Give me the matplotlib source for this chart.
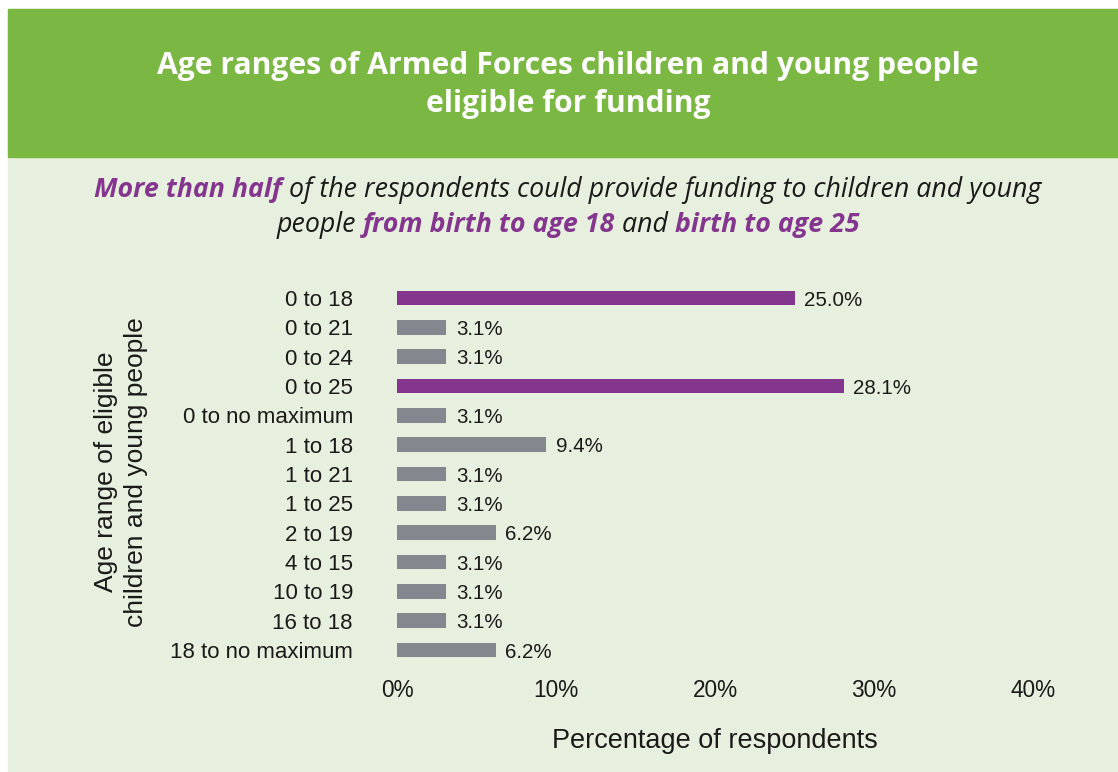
import matplotlib
matplotlib.use("Agg")
import matplotlib.pyplot as plt
from matplotlib.patches import Rectangle

# Data
age_ranges = ["0 to 18", "0 to 21", "0 to 24", "0 to 25", "0 to no maximum",
              "1 to 18", "1 to 21", "1 to 25", "2 to 19", "4 to 15",
              "10 to 19", "16 to 18", "18 to no maximum"]
percentages = [25.0, 3.1, 3.1, 28.1, 3.1, 9.4, 3.1, 3.1, 6.2, 3.1, 3.1, 3.1, 6.2]
highlighted = ["0 to 18", "0 to 25"]
x_ticks = [0, 10, 20, 30, 40]
x_ticklabels = ["0%", "10%", "20%", "30%", "40%"]

GREEN = "#7ab843"
PANEL = "#e7f0de"
PURPLE = "#84368e"
GREY = "#83878e"
TEXT = "#1a1a1a"

W, H = 1118, 772
fig = plt.figure(figsize=(W / 100, H / 100), dpi=100)
fig.patch.set_facecolor("white")


def fx(px):
    return px / W


def fy(py):
    return 1 - py / H


# Background panel and header band
fig.patches.append(Rectangle((fx(8), 0), fx(W - 8), (H - 9) / H,
                             transform=fig.transFigure, color=PANEL, zorder=-10))
fig.patches.append(Rectangle((fx(8), fy(157)), fx(W - 8), (157 - 9) / H,
                             transform=fig.transFigure, color=GREEN, zorder=-10))

renderer = fig.canvas.get_renderer()
HEAD_FONT = "Open Sans"
BODY_FONT = "Liberation Sans"

# Title
title_kw = dict(ha="center", va="center", color="white", fontsize=21.7,
                fontweight="bold", family=HEAD_FONT)
fig.text(fx(568), fy(66), "Age ranges of Armed Forces children and young people", **title_kw)
fig.text(fx(568), fy(104), "eligible for funding", **title_kw)


# Subtitle with mixed emphasis
def rich_line(pieces, cx, cy, size=19.3):
    texts = []
    for s, bold in pieces:
        t = fig.text(0, fy(cy), s, ha="left", va="center", fontsize=size,
                     family=HEAD_FONT, style="italic",
                     fontweight="bold" if bold else "normal",
                     color=PURPLE if bold else TEXT)
        texts.append(t)
    widths = [t.get_window_extent(renderer).width for t in texts]
    total = sum(widths)
    x = cx - total / 2
    for t, w in zip(texts, widths):
        t.set_x(fx(x))
        x += w


rich_line([("More than half", True),
           (" of the respondents could provide funding to children and young", False)],
          568, 190)
rich_line([("people ", False), ("from birth to age 18", True), (" and ", False),
           ("birth to age 25", True)], 568, 225)

# Bar chart
row_gap = (650 - 298) / 12
top = 298 - row_gap / 2
bottom = 650 + row_gap / 2
ax = fig.add_axes([fx(397), fy(bottom), fx(1033 - 397), (bottom - top) / H])
ax.set_facecolor("none")
ypos = list(range(len(age_ranges)))
colors = [PURPLE if a in highlighted else GREY for a in age_ranges]
bars = ax.barh(ypos, percentages, height=0.5, color=colors)
ax.set_ylim(len(age_ranges) - 0.5, -0.5)
ax.set_xlim(0, 40)
for b, v in zip(bars, percentages):
    ax.text(v + 0.6, b.get_y() + b.get_height() / 2, f"{v:.1f}%",
            va="center_baseline", ha="left", fontsize=14.8, color=TEXT,
            family=BODY_FONT)

ax.set_yticks(ypos)
ax.set_yticklabels(age_ranges, fontsize=16, color=TEXT, family=BODY_FONT)
ax.set_xticks(x_ticks)
ax.set_xticklabels(x_ticklabels, fontsize=16.3, color=TEXT, family=BODY_FONT)
ax.tick_params(axis="both", length=0)
ax.tick_params(axis="y", pad=31.7)
ax.tick_params(axis="x", pad=10)
for sp in ax.spines.values():
    sp.set_visible(False)

fig.text(fx(715), fy(741), "Percentage of respondents", ha="center", va="center",
         fontsize=19.5, color=TEXT, family=BODY_FONT)
fig.text(fx(121), fy(472), "Age range of eligible\nchildren and young people",
         rotation=90, ha="center", va="center", fontsize=19, color=TEXT,
         family=BODY_FONT, linespacing=1.35)

fig.savefig("out.png", dpi=100)
